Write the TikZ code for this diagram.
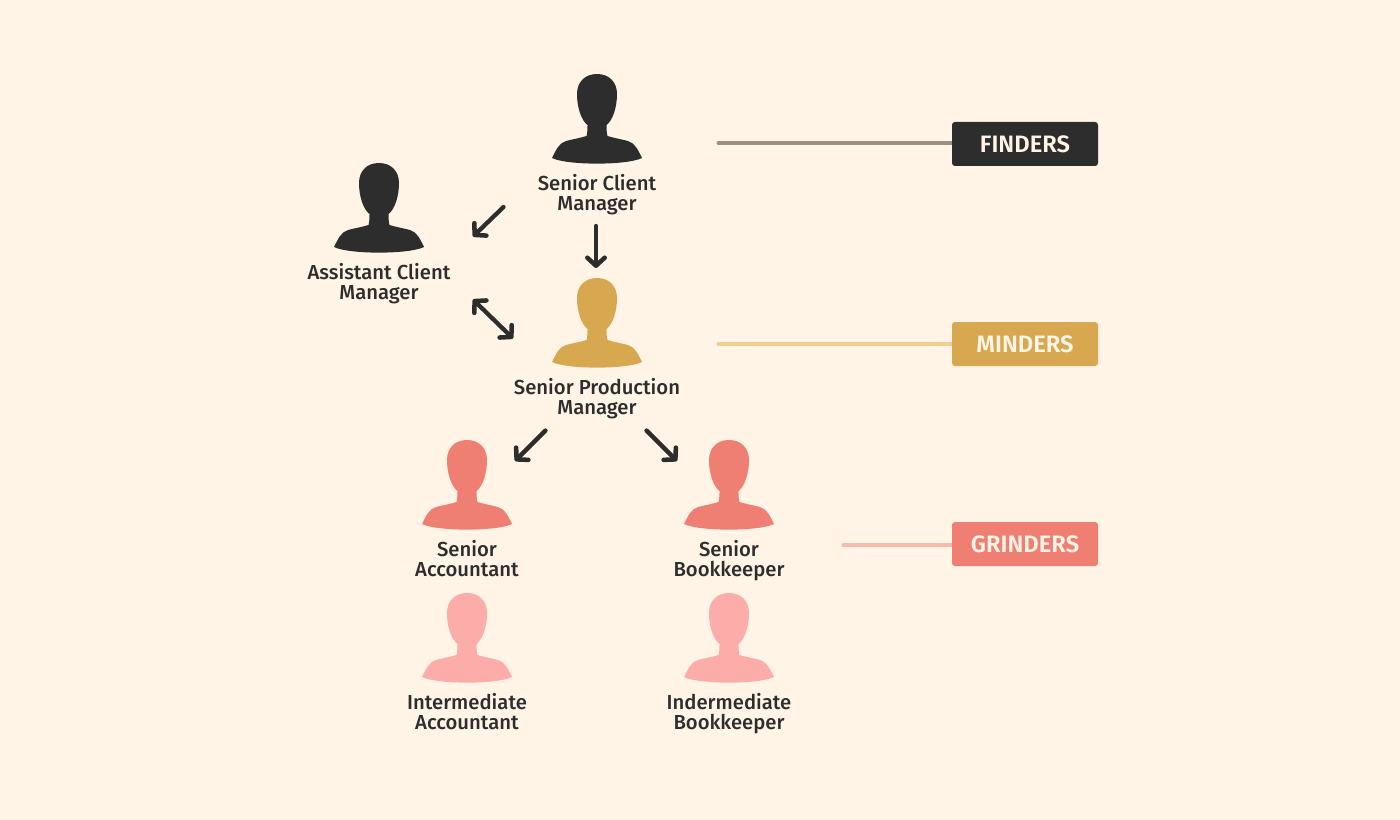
\documentclass[tikz,border=0pt]{standalone}
\usepackage{fontspec}
\setmainfont{Fira Sans Medium}
\newfontfamily\tagfont{Fira Sans SemiBold}
\usetikzlibrary{arrows.meta}
\definecolor{bgc}{HTML}{FFF4E6}
\definecolor{ink}{HTML}{2D2D2D}
\definecolor{gold}{HTML}{D8A851}
\definecolor{coral}{HTML}{EF7F72}
\definecolor{blush}{HTML}{FCADA9}
\definecolor{lineink}{HTML}{9A9085}
\definecolor{linegold}{HTML}{EFD092}
\definecolor{linecoral}{HTML}{F8B9AE}
\pgfdeclarelayer{front}
\pgfsetlayers{main,front}
\tikzset{
  x=0.75pt,y=-0.75pt,
  person/.pic={
    \fill[pic actions] (0,0)
      .. controls (12,0) and (20,8) .. (20,20)
      .. controls (20,33) and (16,46) .. (9.5,51)
      .. controls (9.5,55) and (9.5,58) .. (10.5,62)
      .. controls (15,63.5) and (23,65) .. (31,67)
      .. controls (38,69) and (41,76) .. (45,84)
      .. controls (30,91.5) and (-30,91.5) .. (-45,84)
      .. controls (-41,76) and (-38,69) .. (-31,67)
      .. controls (-23,65) and (-15,63.5) .. (-10.5,62)
      .. controls (-9.5,58) and (-9.5,55) .. (-9.5,51)
      .. controls (-16,46) and (-20,33) .. (-20,20)
      .. controls (-20,8) and (-12,0) .. (0,0) -- cycle;
  },
  nameblock/.style={align=center,text=ink,inner sep=0pt,text height=25.5pt,text depth=0pt,font=\fontsize{15.2}{15}\selectfont},
  tagbox/.style={rounded corners=2.2pt,minimum width=109.5pt,minimum height=33pt,inner sep=0pt,text=bgc,text height=12.4pt,text depth=0pt,font=\tagfont\fontsize{17.8}{17.8}\selectfont},
  flow/.style={draw=ink,line width=3.2pt,line cap=round,line join=round,-{Straight Barb[length=6pt,width=13pt,line width=3.4pt,round]}},
  flowboth/.style={draw=ink,line width=3.2pt,line cap=round,line join=round,{Straight Barb[length=6pt,width=13pt,line width=3.4pt,round]}-{Straight Barb[length=6pt,width=13pt,line width=3.4pt,round]}},
  leader/.style={line width=3pt,line cap=round},
}
\begin{document}
\begin{tikzpicture}
\fill[bgc] (0,0) rectangle (1400,820);
\useasboundingbox (0,0) rectangle (1400,820);

\pic[fill=ink] at (597,74) {person};
\pic[fill=ink] at (379,163) {person};
\pic[fill=gold] at (597,278) {person};
\pic[fill=coral] at (467,440) {person};
\pic[fill=coral] at (729,440) {person};
\pic[fill=blush] at (467,593) {person};
\pic[fill=blush] at (729,593) {person};

\node[nameblock] (scm) at (597,193) {Senior Client\\Manager};
\node[nameblock] (acm) at (379,282) {Assistant Client\\Manager};
\node[nameblock] (spm) at (597,397) {Senior Production\\Manager};
\node[nameblock] (sa) at (467,559) {Senior\\Accountant};
\node[nameblock] (sb) at (729,559) {Senior\\Bookkeeper};
\node[nameblock] (ia) at (467,712) {Intermediate\\Accountant};
\node[nameblock] (ib) at (729,712) {Indermediate\\Bookkeeper};

\begin{pgfonlayer}{front}
\node[tagbox,fill=ink] (finders) at (1025,144) {FINDERS};
\node[tagbox,fill=gold] (minders) at (1025,344) {MINDERS};
\node[tagbox,fill=coral] (grinders) at (1025,544) {GRINDERS};
\end{pgfonlayer}

\coordinate (a1s) at (503.5,207);
\coordinate (a1e) at (473,236.5);
\coordinate (a2s) at (596,226);
\coordinate (a2e) at (596,268);
\coordinate (a3s) at (473,299.5);
\coordinate (a3e) at (513,338.5);
\coordinate (a4s) at (545.5,430.5);
\coordinate (a4e) at (515,461);
\coordinate (a5s) at (646.5,430.5);
\coordinate (a5e) at (677,461);
\coordinate (l1) at (718.5,143);
\coordinate (l2) at (718.5,344);
\coordinate (l3) at (843.5,545);

\draw[flow] (a1s) -- (a1e);
\draw[flow] (a2s) -- (a2e);
\draw[flowboth] (a3s) -- (a3e);
\draw[flow] (a4s) -- (a4e);
\draw[flow] (a5s) -- (a5e);

\draw[leader,draw=lineink] (l1) -- (l1 -| finders.west);
\draw[leader,draw=linegold] (l2) -- (l2 -| minders.west);
\draw[leader,draw=linecoral] (l3) -- (l3 -| grinders.west);
\end{tikzpicture}
\end{document}
